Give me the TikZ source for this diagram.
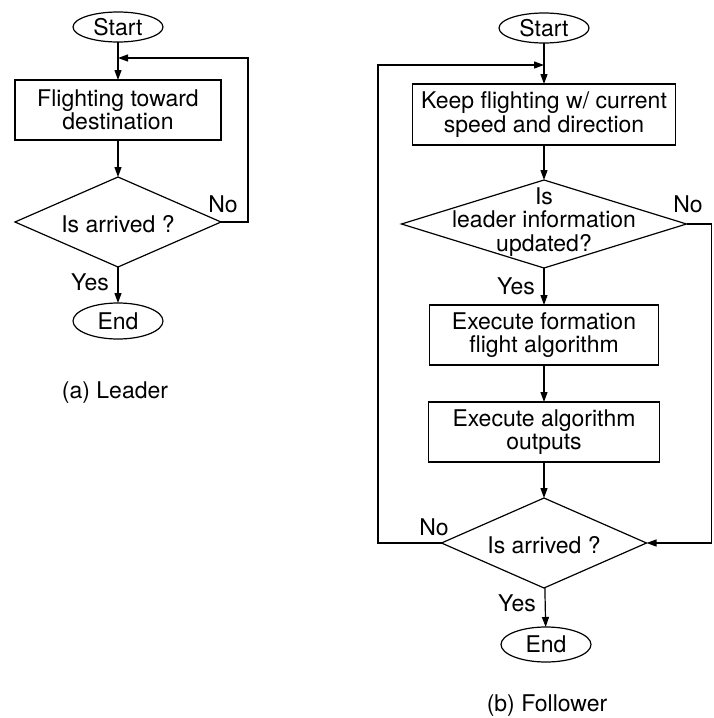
\documentclass[tikz,border=0pt]{standalone}
\usepackage{fontspec}
\setmainfont{TeX Gyre Heros}
\usetikzlibrary{shapes.geometric,arrows.meta}
\begin{document}
\begin{tikzpicture}[x=1pt,y=-1pt,
  every node/.style={font=\fontsize{23}{23.5}\selectfont, inner sep=0pt, outer sep=0pt},
  line width=1.2pt,
  arr/.style={-{Triangle[length=10pt,width=7pt]}},
  term/.style={draw, ellipse, minimum width=90pt, minimum height=30pt},
  proc/.style={draw, rectangle, align=center},
  dec/.style={draw, diamond}
]
\useasboundingbox (0,0) rectangle (713,718);

% ---------- (a) Leader ----------
\node[term] (s1) at (118,27) {Start};
\node[proc, minimum width=206pt, minimum height=60pt] (b1) at (118,110) {Flighting toward\\destination};
\node[dec, minimum width=206pt, minimum height=90pt] (d1) at (118,222) {};
\node (t1) at (118,224) {Is arrived ?};
\node[term, minimum height=36pt] (e1) at (118,321) {End};
\node (c1) at (115,393) {(a) Leader};

\coordinate (lj) at (118,58);
\coordinate (lc) at (248,58);
\draw[arr] (s1) -- (b1);
\draw[arr] (b1) -- (d1);
\draw[arr] (d1.east) -| (lc) -- (lj);
\draw[arr] (d1) -- (e1);
\node (no1) at (223,204) {No};
\node (yes1) at (90,282) {Yes};

% ---------- (b) Follower ----------
\node[term] (s2) at (544,28) {Start};
\node[proc, minimum width=263pt, minimum height=61pt] (b2) at (544,114.5) {Keep flighting w/ current\\speed and direction};
\node[dec, minimum width=285pt, minimum height=88pt] (d2) at (544,224) {};
\node[align=center] (t2) at (544,222) {Is\\leader information\\updated?};
\node[proc, minimum width=229pt, minimum height=60pt] (b3) at (544,335) {Execute formation\\flight algorithm};
\node[proc, minimum width=231pt, minimum height=60pt] (b4) at (544,432) {Execute algorithm\\outputs};
\node[dec, minimum width=205pt, minimum height=90pt] (d3) at (544,543) {};
\node (t3) at (544,545) {Is arrived ?};
\node[term, minimum height=35pt] (e2) at (546,644.5) {End};
\node (c2) at (547,706) {(b) Follower};

\coordinate (rj) at (544,65);
\coordinate (rc) at (378,65);
\coordinate (rr) at (711.5,224);
\draw[arr] (s2) -- (b2);
\draw[arr] (b2) -- (d2);
\draw[arr] (d2) -- (b3);
\draw[arr] (b3) -- (b4);
\draw[arr] (b4) -- (d3);
\draw[arr] (d3) -- (e2);
\draw[arr] (d3.west) -| (rc) -- (rj);
\draw[arr] (d2.east) -- (rr) |- (d3.east);
\node (no2) at (688,204) {No};
\node (yes2) at (516,286) {Yes};
\node (no3) at (434,527) {No};
\node (yes3) at (517,603) {Yes};
\end{tikzpicture}
\end{document}
